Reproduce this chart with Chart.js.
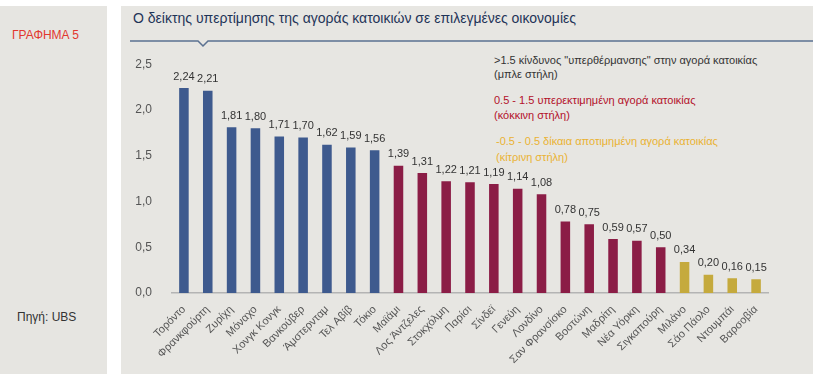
<!DOCTYPE html>
<html>
<head>
<meta charset="utf-8">
<script src="https://cdn.jsdelivr.net/npm/chart.js@4"></script>
<style>
  body { margin: 0; background: #fff; font-family: "Liberation Sans", Arial, sans-serif; }
  #side { position: absolute; left: 0; top: 6px; width: 107px; height: 368px; background: #e6e5e1; }
  #main { position: absolute; left: 121px; top: 6px; width: 692px; height: 368px; background: #e7e6e2; }
  .t { position: absolute; white-space: nowrap; }
  #wrap { position: absolute; left: 121px; top: 45px; width: 692px; height: 330px; }
</style>
</head>
<body>
<div id="side"></div>
<div id="main"></div>
<div class="t" style="left:12px;top:28px;font-size:12px;color:#e2372f;">ΓΡΑΦΗΜΑ 5</div>
<div class="t" style="left:17px;top:310px;font-size:12px;color:#333;">Πηγή: UBS</div>
<div class="t" style="left:133px;top:10px;font-size:14px;color:#1f3458;">Ο δείκτης υπερτίμησης της αγοράς κατοικιών σε επιλεγμένες οικονομίες</div>
<svg style="position:absolute;left:121px;top:34px;" width="692" height="14">
  <polyline points="9,7 77,7 82,12 87,7 692,7" fill="none" stroke="#5b7191" stroke-width="1.5"/>
</svg>
<div class="t" style="left:494px;top:53px;font-size:11px;line-height:14px;color:#333;">&gt;1.5 κίνδυνος "υπερθέρμανσης" στην αγορά κατοικίας<br>(μπλε στήλη)</div>
<div class="t" style="left:494px;top:93px;font-size:11px;line-height:15px;color:#b3102a;">0.5 - 1.5 υπερεκτιμημένη αγορά κατοικίας<br>(κόκκινη στήλη)</div>
<div class="t" style="left:496px;top:133px;font-size:11px;line-height:16px;color:#eab232;">-0.5 - 0.5 δίκαια αποτιμημένη αγορά κατοικίας<br>(κίτρινη στήλη)</div>
<div id="wrap"><canvas id="chart"></canvas></div>
<script>
// cities and index values
const cities = ['Τορόντο', 'Φρανκφούρτη', 'Ζυρίχη', 'Μόναχο', 'Χονγκ Κονγκ', 'Βανκούβερ', 'Άμστερνταμ', 'Τελ Αβίβ', 'Τόκιο',
  'Μαϊάμι', 'Λος Άντζελες', 'Στοκχόλμη', 'Παρίσι', 'Σίνδεϊ', 'Γενεύη', 'Λονδίνο', 'Σαν Φρανσίσκο', 'Βοστώνη', 'Μαδρίτη',
  'Νέα Υόρκη', 'Σιγκαπούρη', 'Μιλάνο', 'Σάο Πάολο', 'Ντουμπάι', 'Βαρσοβία'];
const bubbleIndex = [2.24, 2.21, 1.81, 1.80, 1.71, 1.70, 1.62, 1.59, 1.56,
  1.39, 1.31, 1.22, 1.21, 1.19, 1.14, 1.08, 0.78, 0.75, 0.59, 0.57, 0.50,
  0.34, 0.20, 0.16, 0.15];
const yTicks = [0, 0.5, 1.0, 1.5, 2.0, 2.5];

// colour follows the risk band (blue > 1.5, red 0.5 - 1.5, yellow below)
function bandColor(v) {
  if (v > 1.5) return '#3e5a8e';
  if (v >= 0.5) return '#8b1d46';
  return '#c5aa3d';
}
const barColors = bubbleIndex.map(bandColor);

const fmt = (v, d) => v.toFixed(d).replace('.', ',');

// draw the value above every bar
const valueLabels = {
  id: 'valueLabels',
  afterDatasetsDraw(chart) {
    const ctx = chart.ctx;
    const meta = chart.getDatasetMeta(0);
    ctx.save();
    ctx.font = '11px "Liberation Sans", Arial, sans-serif';
    ctx.fillStyle = '#333';
    ctx.textAlign = 'center';
    ctx.textBaseline = 'bottom';
    meta.data.forEach((bar, i) => {
      ctx.fillText(fmt(bubbleIndex[i], 2), bar.x, bar.y - 6);
    });
    ctx.restore();
  }
};

new Chart(document.getElementById('chart'), {
  type: 'bar',
  data: {
    labels: cities,
    datasets: [{
      data: bubbleIndex,
      backgroundColor: barColors,
      barPercentage: 0.4,
      categoryPercentage: 1.0
    }]
  },
  options: {
    responsive: true,
    maintainAspectRatio: false,
    animation: false,
    layout: { padding: { top: 18, right: 45, left: 0, bottom: 0 } },
    plugins: { legend: { display: false }, tooltip: { enabled: false } },
    scales: {
      x: {
        grid: { display: false },
        border: { display: true, color: '#b4b4b4', width: 1.5 },
        ticks: {
          color: '#555',
          font: { size: 11, family: '"Liberation Sans", Arial, sans-serif' },
          minRotation: 45,
          maxRotation: 45,
          padding: 2,
          autoSkip: false
        },
        afterFit: (scale) => { scale.height = 82; }
      },
      y: {
        min: 0,
        max: 2.5,
        grid: { display: false },
        border: { display: false },
        afterBuildTicks: (scale) => { scale.ticks = yTicks.map(v => ({ value: v })); },
        ticks: {
          color: '#555',
          font: { size: 12, family: '"Liberation Sans", Arial, sans-serif' },
          padding: 12,
          callback: (v) => fmt(v, 1)
        },
        afterFit: (scale) => { scale.width = 51; }
      }
    }
  },
  plugins: [valueLabels]
});
</script>
</body>
</html>
